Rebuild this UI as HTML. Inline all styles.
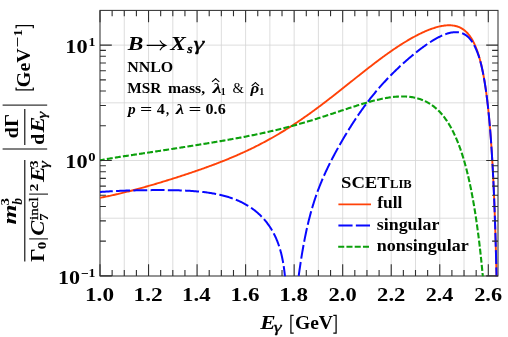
<!DOCTYPE html><html><head><meta charset="utf-8"><style>html,body{margin:0;padding:0;background:#fff}svg{display:block}text{font-family:"Liberation Serif",serif;fill:#000}</style></head><body>
<svg width="508" height="337" viewBox="0 0 508 337">
<rect width="508" height="337" fill="#fff"/>
<path d="M124.27 10.4V276.0M148.54 10.4V276.0M172.81 10.4V276.0M197.08 10.4V276.0M221.34 10.4V276.0M245.61 10.4V276.0M269.88 10.4V276.0M294.15 10.4V276.0M318.42 10.4V276.0M342.69 10.4V276.0M366.96 10.4V276.0M391.23 10.4V276.0M415.50 10.4V276.0M439.77 10.4V276.0M464.03 10.4V276.0M488.30 10.4V276.0M100.0 218.21H498.0M100.0 160.52H498.0M100.0 102.83H498.0M100.0 45.14H498.0" stroke="#d4d4d4" stroke-width="0.8" fill="none"/>
<rect x="100.0" y="10.4" width="398.0" height="265.6" fill="none" stroke="#333" stroke-width="1.05"/>
<clipPath id="c"><rect x="99.7" y="10.1" width="398.6" height="266.20000000000005"/></clipPath>
<g clip-path="url(#c)" fill="none" stroke-linejoin="round">
<path d="M100.00 197.82L100.98 197.63L101.96 197.43L102.94 197.24L103.92 197.04L104.90 196.84L105.88 196.64L106.86 196.44L107.84 196.23L108.82 196.02L109.80 195.81L110.78 195.60L111.75 195.39L112.73 195.17L113.70 194.95L114.68 194.73L115.66 194.51L116.63 194.29L117.60 194.06L118.58 193.83L119.55 193.61L120.52 193.37L121.50 193.14L122.47 192.91L123.44 192.67L124.41 192.43L125.38 192.19L126.35 191.95L127.32 191.70L128.29 191.46L129.26 191.21L130.23 190.96L131.20 190.71L132.17 190.46L133.13 190.21L134.10 189.95L135.07 189.69L136.03 189.44L137.00 189.18L137.96 188.92L138.93 188.65L139.89 188.39L140.86 188.13L141.82 187.86L142.79 187.59L143.75 187.32L144.71 187.05L145.68 186.78L146.64 186.51L147.60 186.24L148.56 185.96L149.52 185.68L150.48 185.41L151.44 185.13L152.40 184.85L153.36 184.57L154.32 184.29L155.28 184.00L156.24 183.72L157.20 183.44L158.16 183.15L159.12 182.86L160.07 182.58L161.03 182.29L161.99 182.00L162.95 181.71L163.90 181.41L164.86 181.12L165.81 180.83L166.77 180.53L167.73 180.24L168.68 179.94L169.64 179.64L170.59 179.35L171.54 179.05L172.50 178.75L173.45 178.45L174.41 178.14L175.36 177.84L176.31 177.54L177.26 177.23L178.22 176.93L179.17 176.62L180.12 176.31L181.07 176.00L182.02 175.69L182.97 175.38L183.92 175.07L184.87 174.76L185.82 174.44L186.77 174.13L187.72 173.81L188.67 173.50L189.62 173.18L190.57 172.86L191.51 172.54L192.46 172.22L193.41 171.90L194.35 171.57L195.30 171.25L196.24 170.92L197.19 170.60L198.13 170.27L199.08 169.94L200.02 169.61L200.97 169.28L201.91 168.95L202.85 168.61L203.79 168.28L204.74 167.94L205.68 167.60L206.62 167.26L207.56 166.92L208.50 166.58L209.44 166.23L210.37 165.89L211.31 165.54L212.25 165.19L213.19 164.84L214.12 164.49L215.06 164.14L215.99 163.78L216.93 163.42L217.86 163.07L218.79 162.71L219.73 162.34L220.66 161.98L221.59 161.61L222.52 161.25L223.45 160.88L224.38 160.51L225.31 160.13L226.23 159.76L227.16 159.38L228.08 159.01L229.01 158.62L229.93 158.24L230.86 157.86L231.78 157.47L232.70 157.08L233.62 156.69L234.54 156.30L235.46 155.90L236.38 155.51L237.30 155.11L238.21 154.71L239.13 154.30L240.04 153.90L240.95 153.49L241.87 153.08L242.78 152.67L243.69 152.25L244.60 151.84L245.50 151.42L246.41 150.99L247.32 150.57L248.22 150.14L249.12 149.72L250.03 149.28L250.93 148.85L251.83 148.42L252.73 147.98L253.62 147.54L254.52 147.09L255.42 146.65L256.31 146.20L257.20 145.75L258.10 145.30L258.99 144.84L259.88 144.38L260.76 143.92L261.65 143.46L262.54 143.00L263.42 142.53L264.30 142.06L265.18 141.59L266.06 141.11L266.94 140.64L267.82 140.16L268.70 139.67L269.57 139.19L270.45 138.70L271.32 138.21L272.19 137.72L273.06 137.23L273.93 136.73L274.79 136.23L275.66 135.73L276.52 135.23L277.39 134.72L278.25 134.22L279.11 133.70L279.97 133.19L280.82 132.68L281.68 132.16L282.53 131.64L283.39 131.12L284.24 130.59L285.09 130.07L285.94 129.54L286.79 129.01L287.63 128.48L288.48 127.94L289.32 127.40L290.16 126.87L291.00 126.32L291.84 125.78L292.68 125.24L293.52 124.69L294.36 124.14L295.19 123.59L296.02 123.03L296.85 122.48L297.68 121.92L298.51 121.36L299.34 120.80L300.17 120.24L300.99 119.67L301.82 119.11L302.64 118.54L303.46 117.97L304.28 117.40L305.10 116.83L305.92 116.25L306.74 115.67L307.55 115.10L308.37 114.52L309.18 113.93L310.00 113.35L310.81 112.77L311.62 112.18L312.43 111.59L313.24 111.00L314.04 110.41L314.85 109.82L315.65 109.23L316.46 108.64L317.26 108.04L318.06 107.44L318.87 106.84L319.67 106.25L320.47 105.64L321.27 105.04L322.06 104.44L322.86 103.84L323.66 103.23L324.45 102.63L325.25 102.02L326.04 101.41L326.83 100.80L327.63 100.19L328.42 99.58L329.21 98.97L330.00 98.36L330.79 97.74L331.58 97.13L332.37 96.51L333.16 95.90L333.94 95.28L334.73 94.67L335.52 94.05L336.30 93.43L337.09 92.81L337.88 92.19L338.66 91.57L339.45 90.95L340.23 90.33L341.01 89.71L341.80 89.09L342.58 88.47L343.36 87.85L344.15 87.22L344.93 86.60L345.71 85.98L346.49 85.35L347.28 84.73L348.06 84.11L348.84 83.48L349.62 82.86L350.40 82.24L351.19 81.61L351.97 80.99L352.75 80.37L353.53 79.74L354.31 79.12L355.10 78.50L355.88 77.88L356.66 77.25L357.44 76.63L358.23 76.01L359.01 75.39L359.80 74.77L360.58 74.15L361.36 73.53L362.15 72.91L362.93 72.29L363.72 71.67L364.51 71.05L365.29 70.43L366.08 69.82L366.87 69.20L367.66 68.59L368.45 67.97L369.24 67.36L370.03 66.75L370.82 66.13L371.61 65.52L372.40 64.91L373.20 64.31L373.99 63.70L374.79 63.09L375.58 62.49L376.38 61.88L377.18 61.28L377.98 60.68L378.78 60.08L379.58 59.48L380.38 58.88L381.19 58.29L381.99 57.70L382.80 57.10L383.60 56.51L384.41 55.93L385.22 55.34L386.03 54.75L386.85 54.17L387.66 53.59L388.48 53.01L389.29 52.44L390.11 51.86L390.93 51.29L391.75 50.72L392.58 50.15L393.40 49.59L394.23 49.02L395.06 48.46L395.89 47.91L396.72 47.35L397.55 46.80L398.39 46.25L399.23 45.70L400.07 45.16L400.91 44.62L401.75 44.08L402.60 43.55L403.45 43.02L404.30 42.49L405.15 41.97L406.01 41.45L406.86 40.94L407.72 40.43L408.58 39.92L409.45 39.41L410.31 38.92L411.18 38.42L412.06 37.93L412.93 37.44L413.81 36.96L414.69 36.49L415.57 36.02L416.45 35.55L417.34 35.09L418.23 34.64L419.13 34.19L420.02 33.75L420.92 33.31L421.83 32.88L422.73 32.46L423.64 32.05L424.56 31.64L425.47 31.24L426.39 30.84L427.32 30.46L428.24 30.08L429.17 29.72L430.11 29.36L431.05 29.01L431.99 28.68L432.93 28.35L433.88 28.04L434.84 27.74L435.79 27.45L436.75 27.17L437.72 26.91L438.69 26.66L439.66 26.43L440.64 26.22L441.62 26.02L442.60 25.85L443.59 25.69L444.58 25.56L445.58 25.45L446.57 25.36L447.57 25.30L448.57 25.27L449.57 25.26L450.57 25.29L451.57 25.35L452.56 25.45L453.56 25.58L454.54 25.75L455.52 25.96L456.49 26.21L457.44 26.50L458.39 26.83L459.31 27.21L460.22 27.62L461.11 28.08L461.98 28.58L462.82 29.11L463.65 29.69L464.44 30.29L465.21 30.93L465.95 31.60L466.67 32.29L467.36 33.02L468.03 33.76L468.68 34.53L469.29 35.31L469.89 36.11L470.47 36.93L471.02 37.77L471.55 38.61L472.07 39.47L472.56 40.34L473.04 41.22L473.50 42.10L473.95 43.00L474.38 43.90L474.80 44.81L475.20 45.73L475.59 46.65L475.97 47.57L476.34 48.50L476.69 49.44L477.04 50.37L477.37 51.32L477.70 52.26L478.02 53.21L478.32 54.16L478.62 55.12L478.92 56.07L479.20 57.03L479.48 57.99L479.75 58.96L480.01 59.92L480.27 60.89L480.52 61.85L480.76 62.82L481.00 63.80L481.24 64.77L481.47 65.74L481.69 66.72L481.91 67.69L482.12 68.67L482.33 69.65L482.54 70.63L482.74 71.61L482.94 72.59L483.13 73.57L483.32 74.55L483.50 75.53L483.69 76.52L483.86 77.50L484.04 78.48L484.21 79.47L484.38 80.45L484.55 81.44L484.71 82.43L484.87 83.41L485.02 84.40L485.18 85.39L485.33 86.38L485.48 87.37L485.63 88.36L485.77 89.35L485.91 90.34L486.05 91.33L486.19 92.32L486.33 93.31L486.46 94.30L486.59 95.29L486.72 96.28L486.85 97.28L486.97 98.27L487.09 99.26L487.22 100.25L487.33 101.25L487.45 102.24L487.57 103.23L487.68 104.23L487.80 105.22L487.91 106.21L488.02 107.21L488.13 108.20L488.23 109.20L488.34 110.19L488.44 111.18L488.54 112.18L488.65 113.17L488.75 114.17L488.84 115.16L488.94 116.16L489.04 117.16L489.13 118.15L489.23 119.15L489.32 120.14L489.41 121.14L489.50 122.13L489.59 123.13L489.68 124.13L489.76 125.12L489.85 126.12L489.93 127.12L490.02 128.11L490.10 129.11L490.18 130.11L490.26 131.10L490.34 132.10L490.42 133.10L490.50 134.09L490.58 135.09L490.65 136.09L490.73 137.08L490.80 138.08L490.88 139.08L490.95 140.08L491.02 141.07L491.09 142.07L491.16 143.07L491.23 144.07L491.30 145.07L491.37 146.06L491.44 147.06L491.50 148.06L491.57 149.06L491.64 150.05L491.70 151.05L491.76 152.05L491.83 153.05L491.89 154.05L491.95 155.04L492.01 156.04L492.08 157.04L492.14 158.04L492.20 159.04L492.25 160.04L492.31 161.03L492.37 162.03L492.43 163.03L492.48 164.03L492.54 165.03L492.60 166.03L492.65 167.03L492.71 168.02L492.76 169.02L492.81 170.02L492.87 171.02L492.92 172.02L492.97 173.02L493.02 174.02L493.07 175.01L493.12 176.01L493.17 177.01L493.22 178.01L493.27 179.01L493.32 180.01L493.37 181.01L493.42 182.01L493.46 183.01L493.51 184.00L493.56 185.00L493.60 186.00L493.65 187.00L493.69 188.00L493.74 189.00L493.78 190.00L493.83 191.00L493.87 192.00L493.92 193.00L493.96 194.00L494.00 194.99L494.04 195.99L494.08 196.99L494.13 197.99L494.17 198.99L494.21 199.99L494.25 200.99L494.29 201.99L494.33 202.99L494.37 203.99L494.41 204.99L494.44 205.99L494.48 206.99L494.52 207.99L494.56 208.98L494.60 209.98L494.63 210.98L494.67 211.98L494.71 212.98L494.74 213.98L494.78 214.98L494.81 215.98L494.85 216.98L494.89 217.98L494.92 218.98L494.95 219.98L494.99 220.98L495.02 221.98L495.06 222.98L495.09 223.98L495.12 224.98L495.16 225.98L495.19 226.98L495.22 227.97L495.25 228.97L495.28 229.97L495.32 230.97L495.35 231.97L495.38 232.97L495.41 233.97L495.44 234.97L495.47 235.97L495.50 236.97L495.53 237.97L495.56 238.97L495.59 239.97L495.62 240.97L495.65 241.97L495.68 242.97L495.70 243.97L495.73 244.97L495.76 245.97L495.79 246.97L495.82 247.97L495.84 248.97L495.87 249.97L495.90 250.97L495.93 251.97L495.95 252.97L495.98 253.97L496.01 254.97L496.03 255.97L496.06 256.96L496.08 257.96L496.11 258.96L496.13 259.96L496.16 260.96L496.18 261.96L496.21 262.96L496.23 263.96L496.26 264.96L496.28 265.96L496.31 266.96L496.33 267.96L496.35 268.96L496.38 269.96L496.40 270.96L496.42 271.96L496.45 272.96L496.47 273.96L496.49 274.96L496.52 275.96L496.54 276.96L496.56 277.96L496.58 278.96L496.60 279.96L496.63 280.96L496.65 281.96L496.67 282.96L496.69 283.96L496.71 284.96" stroke="#ff4208" stroke-width="1.9"/>
<path d="M100.00 192.01L101.00 191.93L101.99 191.85L102.99 191.78L103.99 191.71L104.99 191.64L105.99 191.57L106.99 191.51L107.98 191.44L108.98 191.38L109.98 191.33L110.98 191.27L111.98 191.21L112.98 191.16L113.98 191.11L114.98 191.06L115.98 191.02L116.98 190.97L117.98 190.93L118.97 190.88L119.97 190.84L120.97 190.80L121.97 190.76L122.97 190.73L123.97 190.69L124.97 190.66L125.97 190.62L126.97 190.59L127.97 190.56L128.97 190.53L129.97 190.50L130.97 190.48L131.97 190.45L132.97 190.42L133.97 190.40L134.97 190.38L135.97 190.35L136.97 190.33L137.98 190.31L138.98 190.29L139.98 190.27L140.98 190.25L141.98 190.24L142.98 190.22L143.98 190.21L144.98 190.19L145.98 190.18L146.98 190.17L147.98 190.15L148.98 190.14L149.98 190.13L150.98 190.13L151.98 190.12L152.98 190.11L153.98 190.10L154.98 190.10L155.98 190.10L156.98 190.09L157.98 190.09L158.98 190.09L159.98 190.09L160.99 190.09L161.99 190.09L162.99 190.10L163.99 190.10L164.99 190.11L165.99 190.12L166.99 190.13L167.99 190.14L168.99 190.15L169.99 190.16L170.99 190.18L171.99 190.20L172.99 190.21L173.99 190.23L174.99 190.26L175.99 190.28L176.99 190.31L177.99 190.34L178.99 190.37L179.99 190.40L180.99 190.43L181.99 190.47L182.99 190.51L183.99 190.55L184.99 190.60L185.99 190.65L186.99 190.70L187.99 190.75L188.99 190.81L189.98 190.87L190.98 190.93L191.98 191.00L192.98 191.07L193.98 191.14L194.97 191.22L195.97 191.30L196.97 191.39L197.97 191.48L198.96 191.57L199.96 191.67L200.95 191.77L201.95 191.88L202.94 191.99L203.94 192.11L204.93 192.23L205.92 192.35L206.91 192.49L207.90 192.62L208.89 192.77L209.88 192.92L210.87 193.07L211.86 193.23L212.84 193.40L213.83 193.58L214.81 193.76L215.80 193.94L216.78 194.14L217.76 194.34L218.74 194.55L219.71 194.76L220.69 194.99L221.66 195.22L222.63 195.46L223.60 195.71L224.57 195.96L225.53 196.23L226.50 196.50L227.46 196.79L228.41 197.08L229.37 197.38L230.32 197.69L231.27 198.01L232.21 198.34L233.15 198.67L234.09 199.02L235.03 199.38L235.96 199.75L236.88 200.13L237.80 200.52L238.72 200.92L239.63 201.33L240.54 201.75L241.44 202.19L242.34 202.63L243.23 203.09L244.11 203.55L244.99 204.03L245.86 204.52L246.73 205.02L247.59 205.53L248.44 206.06L249.29 206.59L250.13 207.14L250.96 207.69L251.78 208.26L252.60 208.84L253.40 209.43L254.20 210.04L254.99 210.65L255.77 211.28L256.54 211.91L257.31 212.56L258.06 213.22L258.80 213.89L259.54 214.57L260.26 215.26L260.97 215.96L261.68 216.68L262.37 217.40L263.05 218.13L263.72 218.87L264.38 219.62L265.03 220.38L265.67 221.15L266.30 221.93L266.91 222.72L267.52 223.52L268.11 224.32L268.69 225.14L269.26 225.96L269.82 226.79L270.37 227.63L270.90 228.47L271.43 229.33L271.94 230.19L272.44 231.05L272.93 231.92L273.41 232.80L273.87 233.69L274.33 234.58L274.77 235.48L275.20 236.38L275.62 237.29L276.03 238.20L276.43 239.12L276.82 240.04L277.19 240.97L277.56 241.90L277.91 242.84L278.26 243.77L278.59 244.72L278.91 245.66L279.23 246.61L279.53 247.57L279.83 248.52L280.11 249.48L280.39 250.44L280.65 251.41L280.91 252.38L281.16 253.34L281.40 254.32L281.63 255.29L281.86 256.26L282.07 257.24L282.28 258.22L282.48 259.20L282.68 260.18L282.86 261.16L283.04 262.15L283.21 263.13L283.38 264.12L283.54 265.11L283.69 266.10L283.84 267.09L283.98 268.08L284.12 269.07L284.25 270.06L284.38 271.05L284.50 272.05L284.61 273.04L284.72 274.03L284.83 275.03L284.93 276.02L285.03 277.02L285.13 278.02L285.22 279.01L285.30 280.01L285.38 281.01L285.46 282.00L285.54 283.00L285.61 284.00L285.68 285.00" stroke="#0808ff" stroke-width="2.0" stroke-dasharray="13.96 3.3" stroke-dashoffset="1.15"/>
<path d="M298.00 281.40L298.13 280.41L298.26 279.42L298.39 278.43L298.52 277.43L298.65 276.44L298.78 275.45L298.92 274.46L299.05 273.46L299.19 272.47L299.33 271.48L299.46 270.49L299.60 269.50L299.75 268.51L299.89 267.52L300.03 266.53L300.18 265.54L300.33 264.55L300.47 263.56L300.62 262.57L300.78 261.58L300.93 260.59L301.08 259.60L301.24 258.61L301.40 257.62L301.55 256.63L301.72 255.64L301.88 254.66L302.04 253.67L302.21 252.68L302.37 251.69L302.54 250.71L302.71 249.72L302.89 248.73L303.06 247.75L303.24 246.76L303.41 245.78L303.59 244.79L303.77 243.81L303.96 242.82L304.14 241.84L304.33 240.86L304.52 239.87L304.71 238.89L304.91 237.91L305.10 236.93L305.30 235.95L305.50 234.97L305.71 233.99L305.91 233.01L306.12 232.03L306.33 231.05L306.54 230.07L306.76 229.09L306.98 228.12L307.20 227.14L307.42 226.16L307.65 225.19L307.88 224.21L308.11 223.24L308.34 222.27L308.58 221.29L308.82 220.32L309.06 219.35L309.31 218.38L309.55 217.41L309.81 216.44L310.06 215.47L310.32 214.51L310.58 213.54L310.84 212.57L311.11 211.61L311.38 210.65L311.66 209.68L311.94 208.72L312.22 207.76L312.50 206.80L312.79 205.84L313.08 204.88L313.38 203.93L313.67 202.97L313.98 202.02L314.28 201.06L314.59 200.11L314.90 199.16L315.22 198.21L315.54 197.26L315.87 196.32L316.19 195.37L316.53 194.43L316.86 193.48L317.20 192.54L317.54 191.60L317.89 190.66L318.24 189.72L318.60 188.79L318.95 187.85L319.32 186.92L319.68 185.99L320.05 185.06L320.42 184.13L320.80 183.20L321.18 182.27L321.56 181.35L321.95 180.43L322.34 179.51L322.74 178.59L323.14 177.67L323.54 176.75L323.94 175.83L324.35 174.92L324.76 174.01L325.18 173.10L325.59 172.19L326.01 171.28L326.44 170.37L326.86 169.47L327.29 168.56L327.73 167.66L328.16 166.76L328.60 165.86L329.04 164.96L329.49 164.06L329.93 163.17L330.38 162.27L330.83 161.38L331.29 160.49L331.74 159.59L332.20 158.70L332.66 157.82L333.13 156.93L333.59 156.04L334.06 155.16L334.53 154.27L335.01 153.39L335.48 152.51L335.96 151.63L336.44 150.75L336.92 149.87L337.40 149.00L337.89 148.12L338.37 147.25L338.86 146.37L339.35 145.50L339.85 144.63L340.34 143.76L340.84 142.89L341.34 142.02L341.84 141.16L342.34 140.29L342.85 139.43L343.35 138.56L343.86 137.70L344.37 136.84L344.88 135.98L345.40 135.12L345.91 134.26L346.43 133.41L346.95 132.55L347.47 131.70L348.00 130.84L348.52 129.99L349.05 129.14L349.58 128.29L350.11 127.44L350.65 126.60L351.18 125.75L351.72 124.91L352.26 124.06L352.80 123.22L353.35 122.38L353.89 121.54L354.44 120.71L354.99 119.87L355.55 119.03L356.10 118.20L356.66 117.37L357.22 116.54L357.78 115.71L358.35 114.89L358.91 114.06L359.48 113.24L360.05 112.42L360.63 111.60L361.21 110.78L361.79 109.96L362.37 109.15L362.95 108.33L363.54 107.52L364.13 106.71L364.72 105.91L365.31 105.10L365.91 104.30L366.51 103.50L367.11 102.70L367.72 101.90L368.33 101.10L368.94 100.31L369.55 99.52L370.17 98.73L370.79 97.94L371.41 97.16L372.03 96.38L372.66 95.60L373.29 94.82L373.92 94.04L374.56 93.27L375.20 92.50L375.84 91.73L376.48 90.96L377.13 90.20L377.78 89.44L378.43 88.68L379.09 87.92L379.75 87.17L380.41 86.42L381.07 85.67L381.74 84.92L382.40 84.17L383.08 83.43L383.75 82.69L384.43 81.95L385.11 81.22L385.79 80.49L386.47 79.76L387.16 79.03L387.85 78.30L388.55 77.58L389.24 76.86L389.94 76.14L390.64 75.43L391.34 74.72L392.05 74.01L392.76 73.30L393.47 72.59L394.18 71.89L394.89 71.19L395.61 70.49L396.33 69.79L397.05 69.10L397.78 68.41L398.50 67.72L399.23 67.04L399.96 66.35L400.70 65.67L401.43 64.99L402.17 64.32L402.91 63.64L403.66 62.97L404.40 62.30L405.15 61.64L405.90 60.97L406.65 60.31L407.40 59.65L408.16 59.00L408.92 58.35L409.68 57.69L410.44 57.05L411.21 56.40L411.98 55.76L412.75 55.12L413.52 54.49L414.30 53.85L415.07 53.22L415.85 52.60L416.64 51.97L417.42 51.35L418.21 50.74L419.00 50.12L419.80 49.51L420.60 48.91L421.40 48.31L422.20 47.71L423.01 47.12L423.82 46.53L424.63 45.95L425.45 45.37L426.27 44.79L427.09 44.22L427.92 43.66L428.75 43.10L429.59 42.55L430.43 42.01L431.27 41.47L432.12 40.94L432.97 40.42L433.83 39.90L434.69 39.39L435.56 38.89L436.43 38.40L437.31 37.93L438.20 37.46L439.09 37.00L439.99 36.55L440.89 36.12L441.80 35.70L442.71 35.30L443.64 34.91L444.57 34.54L445.50 34.19L446.45 33.86L447.40 33.55L448.36 33.27L449.33 33.01L450.30 32.78L451.28 32.58L452.27 32.41L453.26 32.28L454.26 32.19L455.26 32.14L456.26 32.13L457.26 32.18L458.26 32.27L459.25 32.42L460.23 32.63L461.19 32.89L462.14 33.21L463.07 33.58L463.97 34.02L464.85 34.50L465.69 35.03L466.51 35.62L467.29 36.24L468.04 36.90L468.76 37.59L469.45 38.32L470.11 39.07L470.74 39.85L471.35 40.65L471.92 41.47L472.47 42.30L473.00 43.15L473.51 44.02L474.00 44.89L474.46 45.78L474.91 46.67L475.34 47.58L475.76 48.49L476.16 49.40L476.55 50.32L476.94 51.25L477.31 52.18L477.67 53.11L478.02 54.05L478.35 54.99L478.68 55.94L478.99 56.89L479.30 57.84L479.59 58.80L479.87 59.76L480.15 60.72L480.41 61.69L480.67 62.66L480.92 63.63L481.17 64.60L481.40 65.57L481.63 66.54L481.86 67.52L482.08 68.50L482.29 69.47L482.50 70.45L482.70 71.43L482.90 72.42L483.09 73.40L483.28 74.38L483.47 75.36L483.65 76.35L483.83 77.33L484.01 78.32L484.18 79.30L484.35 80.29L484.52 81.28L484.68 82.27L484.84 83.25L485.00 84.24L485.15 85.23L485.31 86.22L485.46 87.21L485.60 88.20L485.75 89.19L485.89 90.18L486.03 91.17L486.17 92.17L486.30 93.16L486.44 94.15L486.57 95.14L486.70 96.13L486.83 97.13L486.95 98.12L487.08 99.11L487.20 100.11L487.32 101.10L487.44 102.10L487.55 103.09L487.67 104.08L487.78 105.08L487.89 106.07L488.00 107.07L488.11 108.06L488.22 109.06L488.32 110.05L488.43 111.05L488.53 112.05L488.63 113.04L488.73 114.04L488.83 115.03L488.93 116.03L489.02 117.03L489.12 118.02L489.21 119.02L489.31 120.02L489.40 121.01L489.49 122.01L489.58 123.01L489.67 124.01L489.75 125.00L489.84 126.00L489.92 127.00L490.01 127.99L490.09 128.99L490.17 129.99L490.25 130.99L490.33 131.99L490.41 132.98L490.49 133.98L490.57 134.98L490.64 135.98L490.72 136.98L490.79 137.97L490.87 138.97L490.94 139.97L491.01 140.97L491.09 141.97L491.16 142.97L491.23 143.97L491.29 144.96L491.36 145.96L491.43 146.96L491.50 147.96L491.56 148.96L491.63 149.96L491.69 150.96L491.76 151.96L491.82 152.96L491.89 153.95L491.95 154.95L492.01 155.95L492.07 156.95L492.13 157.95L492.19 158.95L492.25 159.95L492.31 160.95L492.37 161.95L492.42 162.95L492.48 163.95L492.54 164.95L492.59 165.95L492.65 166.95L492.70 167.95L492.76 168.95L492.81 169.95L492.86 170.94L492.91 171.94L492.97 172.94L493.02 173.94L493.07 174.94L493.12 175.94L493.17 176.94L493.22 177.94L493.27 178.94L493.32 179.94L493.37 180.94L493.41 181.94L493.46 182.94L493.51 183.94L493.55 184.94L493.60 185.94L493.65 186.94L493.69 187.94L493.74 188.94L493.78 189.94L493.83 190.94L493.87 191.94L493.91 192.94L493.96 193.94L494.00 194.94L494.04 195.94L494.08 196.94L494.12 197.94L494.17 198.94L494.21 199.94L494.25 200.94L494.29 201.95L494.33 202.95L494.37 203.95L494.40 204.95L494.44 205.95L494.48 206.95L494.52 207.95L494.56 208.95L494.60 209.95L494.63 210.95L494.67 211.95L494.71 212.95L494.74 213.95L494.78 214.95L494.81 215.95L494.85 216.95L494.88 217.95L494.92 218.95L494.95 219.95L494.99 220.95L495.02 221.95L495.06 222.95L495.09 223.95L495.12 224.95L495.15 225.96L495.19 226.96L495.22 227.96L495.25 228.96L495.28 229.96L495.32 230.96L495.35 231.96L495.38 232.96L495.41 233.96L495.44 234.96L495.47 235.96L495.50 236.96L495.53 237.96L495.56 238.96L495.59 239.96L495.62 240.96L495.65 241.97L495.68 242.97L495.70 243.97L495.73 244.97L495.76 245.97L495.79 246.97L495.82 247.97L495.84 248.97L495.87 249.97L495.90 250.97L495.93 251.97L495.95 252.97L495.98 253.97L496.01 254.97L496.03 255.97L496.06 256.98L496.08 257.98L496.11 258.98L496.13 259.98L496.16 260.98L496.18 261.98L496.21 262.98L496.23 263.98L496.26 264.98L496.28 265.98L496.31 266.98L496.33 267.98L496.35 268.98L496.38 269.99L496.40 270.99L496.42 271.99L496.45 272.99L496.47 273.99L496.49 274.99L496.52 275.99L496.54 276.99L496.56 277.99L496.58 278.99L496.60 279.99L496.63 280.99L496.65 282.00L496.67 283.00L496.69 284.00L496.71 285.00" stroke="#0808ff" stroke-width="2.0" stroke-dasharray="13.96 3.3" stroke-dashoffset="11.6"/>
<path d="M100.00 160.31L100.98 160.12L101.97 159.93L102.95 159.75L103.93 159.56L104.92 159.38L105.90 159.21L106.89 159.03L107.87 158.86L108.86 158.69L109.84 158.52L110.83 158.35L111.82 158.18L112.81 158.02L113.79 157.85L114.78 157.69L115.77 157.53L116.76 157.37L117.74 157.22L118.73 157.06L119.72 156.90L120.71 156.75L121.70 156.60L122.69 156.44L123.68 156.29L124.67 156.14L125.66 155.99L126.65 155.84L127.64 155.69L128.62 155.54L129.61 155.39L130.60 155.24L131.59 155.09L132.58 154.94L133.57 154.79L134.56 154.64L135.55 154.49L136.54 154.35L137.53 154.20L138.52 154.05L139.51 153.90L140.50 153.75L141.49 153.61L142.48 153.46L143.47 153.31L144.46 153.16L145.45 153.01L146.44 152.87L147.43 152.72L148.42 152.57L149.41 152.42L150.40 152.27L151.39 152.12L152.38 151.97L153.37 151.82L154.36 151.67L155.35 151.52L156.34 151.37L157.33 151.22L158.31 151.07L159.30 150.92L160.29 150.77L161.28 150.62L162.27 150.47L163.26 150.32L164.25 150.16L165.24 150.01L166.23 149.86L167.22 149.71L168.21 149.56L169.20 149.40L170.19 149.25L171.17 149.10L172.16 148.94L173.15 148.79L174.14 148.63L175.13 148.48L176.12 148.33L177.11 148.17L178.10 148.02L179.08 147.86L180.07 147.71L181.06 147.55L182.05 147.39L183.04 147.24L184.03 147.08L185.02 146.93L186.00 146.77L186.99 146.61L187.98 146.46L188.97 146.30L189.96 146.14L190.95 145.98L191.93 145.83L192.92 145.67L193.91 145.51L194.90 145.35L195.89 145.19L196.88 145.03L197.86 144.87L198.85 144.71L199.84 144.55L200.83 144.39L201.82 144.23L202.80 144.07L203.79 143.91L204.78 143.75L205.77 143.59L206.75 143.42L207.74 143.26L208.73 143.10L209.72 142.94L210.70 142.77L211.69 142.61L212.68 142.44L213.66 142.28L214.65 142.11L215.64 141.95L216.63 141.78L217.61 141.61L218.60 141.45L219.59 141.28L220.57 141.11L221.56 140.94L222.54 140.77L223.53 140.60L224.52 140.43L225.50 140.26L226.49 140.09L227.47 139.91L228.46 139.74L229.45 139.57L230.43 139.39L231.42 139.22L232.40 139.04L233.39 138.86L234.37 138.68L235.36 138.50L236.34 138.32L237.33 138.14L238.31 137.96L239.29 137.78L240.28 137.60L241.26 137.41L242.24 137.23L243.23 137.04L244.21 136.85L245.19 136.66L246.18 136.47L247.16 136.28L248.14 136.09L249.12 135.90L250.10 135.70L251.09 135.51L252.07 135.31L253.05 135.11L254.03 134.91L255.01 134.71L255.99 134.51L256.97 134.31L257.95 134.10L258.93 133.90L259.91 133.69L260.89 133.48L261.87 133.27L262.84 133.06L263.82 132.85L264.80 132.63L265.78 132.42L266.75 132.20L267.73 131.98L268.71 131.76L269.68 131.54L270.66 131.31L271.63 131.09L272.61 130.86L273.58 130.63L274.55 130.40L275.53 130.17L276.50 129.94L277.47 129.70L278.45 129.47L279.42 129.23L280.39 128.99L281.36 128.74L282.33 128.50L283.30 128.26L284.27 128.01L285.24 127.76L286.21 127.51L287.18 127.26L288.15 127.00L289.12 126.75L290.08 126.49L291.05 126.23L292.02 125.97L292.98 125.71L293.95 125.45L294.91 125.18L295.88 124.91L296.84 124.65L297.80 124.38L298.77 124.10L299.73 123.83L300.69 123.55L301.65 123.28L302.61 123.00L303.58 122.72L304.54 122.44L305.50 122.15L306.45 121.87L307.41 121.58L308.37 121.29L309.33 121.01L310.29 120.71L311.25 120.42L312.20 120.13L313.16 119.83L314.11 119.54L315.07 119.24L316.03 118.94L316.98 118.64L317.93 118.34L318.89 118.04L319.84 117.74L320.80 117.43L321.75 117.13L322.70 116.82L323.65 116.51L324.61 116.20L325.56 115.90L326.51 115.59L327.46 115.27L328.41 114.96L329.36 114.65L330.31 114.34L331.26 114.03L332.21 113.71L333.16 113.40L334.11 113.08L335.06 112.77L336.01 112.45L336.96 112.14L337.91 111.82L338.86 111.51L339.81 111.19L340.76 110.87L341.71 110.56L342.66 110.24L343.61 109.93L344.56 109.61L345.51 109.30L346.46 108.99L347.41 108.67L348.36 108.36L349.32 108.05L350.27 107.74L351.22 107.43L352.17 107.12L353.12 106.81L354.08 106.51L355.03 106.20L355.98 105.90L356.94 105.60L357.89 105.30L358.85 105.00L359.80 104.70L360.76 104.41L361.72 104.12L362.68 103.83L363.63 103.54L364.59 103.26L365.55 102.98L366.52 102.70L367.48 102.42L368.44 102.15L369.41 101.88L370.37 101.62L371.34 101.35L372.30 101.10L373.27 100.84L374.24 100.59L375.21 100.35L376.18 100.11L377.16 99.88L378.13 99.65L379.11 99.42L380.08 99.20L381.06 98.99L382.04 98.79L383.02 98.59L384.00 98.39L384.99 98.21L385.97 98.03L386.96 97.86L387.94 97.70L388.93 97.54L389.92 97.39L390.91 97.26L391.91 97.13L392.90 97.01L393.90 96.90L394.89 96.80L395.89 96.72L396.89 96.64L397.89 96.58L398.88 96.53L399.88 96.49L400.88 96.46L401.89 96.44L402.89 96.45L403.89 96.46L404.89 96.49L405.89 96.53L406.89 96.59L407.88 96.67L408.88 96.76L409.88 96.87L410.87 97.00L411.86 97.15L412.85 97.31L413.83 97.49L414.81 97.69L415.79 97.91L416.76 98.15L417.72 98.41L418.69 98.69L419.64 98.99L420.59 99.31L421.53 99.65L422.46 100.01L423.39 100.39L424.31 100.79L425.21 101.21L426.11 101.65L427.00 102.11L427.88 102.59L428.75 103.09L429.60 103.61L430.45 104.14L431.28 104.70L432.10 105.27L432.91 105.86L433.71 106.46L434.50 107.08L435.27 107.72L436.03 108.37L436.78 109.04L437.51 109.72L438.23 110.41L438.94 111.11L439.64 111.83L440.32 112.56L441.00 113.30L441.66 114.06L442.31 114.82L442.94 115.59L443.57 116.37L444.18 117.16L444.79 117.96L445.38 118.77L445.96 119.58L446.53 120.40L447.09 121.23L447.64 122.07L448.18 122.91L448.71 123.76L449.23 124.62L449.74 125.48L450.24 126.34L450.74 127.21L451.22 128.09L451.70 128.97L452.17 129.85L452.63 130.74L453.08 131.63L453.53 132.53L453.96 133.43L454.39 134.33L454.82 135.24L455.23 136.15L455.64 137.06L456.04 137.98L456.44 138.90L456.83 139.82L457.21 140.75L457.59 141.67L457.96 142.60L458.33 143.53L458.69 144.47L459.04 145.40L459.39 146.34L459.74 147.28L460.08 148.22L460.41 149.16L460.74 150.11L461.07 151.06L461.39 152.00L461.70 152.95L462.01 153.91L462.32 154.86L462.62 155.81L462.92 156.77L463.21 157.72L463.50 158.68L463.79 159.64L464.07 160.60L464.35 161.56L464.63 162.52L464.90 163.49L465.17 164.45L465.43 165.42L465.69 166.38L465.95 167.35L466.21 168.32L466.46 169.29L466.71 170.26L466.95 171.23L467.19 172.20L467.43 173.17L467.67 174.14L467.90 175.11L468.14 176.09L468.36 177.06L468.59 178.04L468.81 179.01L469.03 179.99L469.25 180.97L469.47 181.94L469.68 182.92L469.89 183.90L470.10 184.88L470.31 185.86L470.51 186.84L470.71 187.82L470.91 188.80L471.11 189.78L471.30 190.76L471.50 191.74L471.69 192.72L471.88 193.71L472.06 194.69L472.25 195.67L472.43 196.66L472.61 197.64L472.79 198.63L472.97 199.61L473.15 200.60L473.32 201.58L473.49 202.57L473.66 203.55L473.83 204.54L474.00 205.53L474.17 206.51L474.33 207.50L474.49 208.49L474.65 209.48L474.81 210.47L474.97 211.45L475.13 212.44L475.28 213.43L475.44 214.42L475.59 215.41L475.74 216.40L475.89 217.39L476.04 218.38L476.18 219.37L476.33 220.36L476.47 221.35L476.61 222.34L476.76 223.33L476.90 224.32L477.04 225.31L477.17 226.30L477.31 227.29L477.44 228.29L477.58 229.28L477.71 230.27L477.84 231.26L477.97 232.25L478.10 233.25L478.23 234.24L478.36 235.23L478.49 236.22L478.61 237.22L478.74 238.21L478.86 239.20L478.98 240.20L479.10 241.19L479.22 242.18L479.34 243.18L479.46 244.17L479.58 245.16L479.69 246.16L479.81 247.15L479.93 248.15L480.04 249.14L480.15 250.14L480.26 251.13L480.37 252.12L480.48 253.12L480.59 254.11L480.70 255.11L480.81 256.10L480.92 257.10L481.02 258.09L481.13 259.09L481.23 260.09L481.34 261.08L481.44 262.08L481.54 263.07L481.64 264.07L481.74 265.06L481.84 266.06L481.94 267.05L482.04 268.05L482.14 269.05L482.23 270.04L482.33 271.04L482.43 272.04L482.52 273.03L482.61 274.03L482.71 275.02L482.80 276.02L482.89 277.02L482.98 278.01L483.07 279.01L483.16 280.01L483.25 281.00L483.34 282.00L483.43 283.00L483.52 283.99L483.61 284.99" stroke="#0ca00c" stroke-width="2.1" stroke-dasharray="5.95 2.2" stroke-dashoffset="1.2"/>
</g>
<path d="M100.00 276.0v-11.8M100.00 10.4v11.8M112.13 276.0v-5.9M112.13 10.4v5.9M124.27 276.0v-5.9M124.27 10.4v5.9M136.40 276.0v-5.9M136.40 10.4v5.9M148.54 276.0v-11.8M148.54 10.4v11.8M160.67 276.0v-5.9M160.67 10.4v5.9M172.81 276.0v-5.9M172.81 10.4v5.9M184.94 276.0v-5.9M184.94 10.4v5.9M197.08 276.0v-11.8M197.08 10.4v11.8M209.21 276.0v-5.9M209.21 10.4v5.9M221.34 276.0v-5.9M221.34 10.4v5.9M233.48 276.0v-5.9M233.48 10.4v5.9M245.61 276.0v-11.8M245.61 10.4v11.8M257.75 276.0v-5.9M257.75 10.4v5.9M269.88 276.0v-5.9M269.88 10.4v5.9M282.02 276.0v-5.9M282.02 10.4v5.9M294.15 276.0v-11.8M294.15 10.4v11.8M306.29 276.0v-5.9M306.29 10.4v5.9M318.42 276.0v-5.9M318.42 10.4v5.9M330.56 276.0v-5.9M330.56 10.4v5.9M342.69 276.0v-11.8M342.69 10.4v11.8M354.82 276.0v-5.9M354.82 10.4v5.9M366.96 276.0v-5.9M366.96 10.4v5.9M379.09 276.0v-5.9M379.09 10.4v5.9M391.23 276.0v-11.8M391.23 10.4v11.8M403.36 276.0v-5.9M403.36 10.4v5.9M415.50 276.0v-5.9M415.50 10.4v5.9M427.63 276.0v-5.9M427.63 10.4v5.9M439.77 276.0v-11.8M439.77 10.4v11.8M451.90 276.0v-5.9M451.90 10.4v5.9M464.03 276.0v-5.9M464.03 10.4v5.9M476.17 276.0v-5.9M476.17 10.4v5.9M488.30 276.0v-11.8M488.30 10.4v11.8M100.0 275.90h11.8M498.0 275.90h-11.8M100.0 241.17h5.9M498.0 241.17h-5.9M100.0 220.85h5.9M498.0 220.85h-5.9M100.0 206.43h5.9M498.0 206.43h-5.9M100.0 195.25h5.9M498.0 195.25h-5.9M100.0 186.12h5.9M498.0 186.12h-5.9M100.0 178.39h5.9M498.0 178.39h-5.9M100.0 171.70h5.9M498.0 171.70h-5.9M100.0 165.80h5.9M498.0 165.80h-5.9M100.0 160.52h11.8M498.0 160.52h-11.8M100.0 125.79h5.9M498.0 125.79h-5.9M100.0 105.47h5.9M498.0 105.47h-5.9M100.0 91.05h5.9M498.0 91.05h-5.9M100.0 79.87h5.9M498.0 79.87h-5.9M100.0 70.74h5.9M498.0 70.74h-5.9M100.0 63.01h5.9M498.0 63.01h-5.9M100.0 56.32h5.9M498.0 56.32h-5.9M100.0 50.42h5.9M498.0 50.42h-5.9M100.0 45.14h11.8M498.0 45.14h-11.8" stroke="#2e2e2e" stroke-width="1.1" fill="none"/>
<g opacity="0.999">
<text transform="translate(84.99,300.70) scale(1.2454,1)" font-size="18.65" font-weight="bold" font-style="normal">1.0</text>
<text transform="translate(133.52,300.70) scale(1.2462,1)" font-size="18.72" font-weight="bold" font-style="normal">1.2</text>
<text transform="translate(182.10,300.70) scale(1.2146,1)" font-size="18.79" font-weight="bold" font-style="normal">1.4</text>
<text transform="translate(230.62,300.70) scale(1.2326,1)" font-size="18.72" font-weight="bold" font-style="normal">1.6</text>
<text transform="translate(279.15,300.70) scale(1.2400,1)" font-size="18.65" font-weight="bold" font-style="normal">1.8</text>
<text transform="translate(328.58,300.70) scale(1.2055,1)" font-size="18.65" font-weight="bold" font-style="normal">2.0</text>
<text transform="translate(377.12,300.70) scale(1.2061,1)" font-size="18.72" font-weight="bold" font-style="normal">2.2</text>
<text transform="translate(425.68,300.70) scale(1.1808,1)" font-size="18.72" font-weight="bold" font-style="normal">2.4</text>
<text transform="translate(474.20,300.70) scale(1.1933,1)" font-size="18.72" font-weight="bold" font-style="normal">2.6</text>
<text transform="translate(65.31,52.89) scale(1.1876,1)" font-size="18.80" font-weight="bold" font-style="normal">10</text>
<text transform="translate(88.39,46.09) scale(1.0650,1)" font-size="13.03" font-weight="bold" font-style="normal">1</text>
<text transform="translate(65.31,168.27) scale(1.1876,1)" font-size="18.80" font-weight="bold" font-style="normal">10</text>
<text transform="translate(88.25,161.47) scale(1.1024,1)" font-size="13.23" font-weight="bold" font-style="normal">0</text>
<text transform="translate(57.93,283.65) scale(1.1755,1)" font-size="18.80" font-weight="bold" font-style="normal">10</text>
<text transform="translate(80.78,277.85) scale(1.0506,1)" font-size="13.10" font-weight="bold" font-style="normal">−</text>
<text transform="translate(88.49,276.75) scale(1.0776,1)" font-size="12.88" font-weight="bold" font-style="normal">1</text>
<text transform="translate(260.27,328.70) scale(1.2060,1)" font-size="19.08" font-weight="bold" font-style="italic">E</text>
<text transform="translate(273.85,331.90) scale(1.4286,1)" font-size="14.00" font-weight="normal" font-style="italic" stroke="#000" stroke-width="0.3">γ</text>
<text transform="translate(294.97,328.90) scale(1.0053,1)" font-size="19.47" font-weight="bold" font-style="normal">GeV</text>
<path d="M293.7 315.4H290.9V333.2H293.7M333.3 315.4H336.1V333.2H333.3" stroke="#000" stroke-width="1.25" fill="none"/>
<text transform="translate(127.83,50.00) scale(1.2481,1)" font-size="18.78" font-weight="bold" font-style="italic">B</text>
<path d="M146.7 45.4H165M159.9 40.6C161.2 43.2 163 44.6 165.6 45.4C163 46.2 161.2 47.6 159.9 50.2" stroke="#000" stroke-width="1.1" fill="none"/>
<text transform="translate(170.19,50.00) scale(1.2482,1)" font-size="18.78" font-weight="bold" font-style="italic">X</text>
<text transform="translate(187.27,53.10) scale(1.1123,1)" font-size="12.40" font-weight="bold" font-style="italic" stroke="#000" stroke-width="0.35">s</text>
<text transform="translate(193.42,49.80) scale(1.5139,1)" font-size="18.00" font-weight="normal" font-style="italic" stroke="#000" stroke-width="0.3">γ</text>
<text transform="translate(127.18,71.50) scale(1.1332,1)" font-size="14.04" font-weight="bold" font-style="normal">NNLO</text>
<text transform="translate(127.23,92.80) scale(1.0799,1)" font-size="14.19" font-weight="bold" font-style="normal">MSR</text>
<text transform="translate(167.97,92.80) scale(1.0988,1)" font-size="14.30" font-weight="bold" font-style="normal">mass,</text>
<text transform="translate(212.42,92.80) scale(1.3669,1)" font-size="15.04" font-weight="bold" font-style="italic">λ</text>
<path d="M212.0 81.7Q214.4 80.2 215.65 78.5Q216.9 80.2 219.3 81.7" stroke="#000" stroke-width="1.15" fill="none" stroke-linejoin="round"/>
<text transform="translate(220.82,95.00) scale(1.0102,1)" font-size="9.70" font-weight="bold" font-style="normal">1</text>
<text transform="translate(232.55,92.90) scale(0.9756,1)" font-size="15.04" font-weight="normal" font-style="normal">&amp;</text>
<text transform="translate(250.62,92.60) scale(1.1770,1)" font-size="14.30" font-weight="bold" font-style="italic">ρ</text>
<path d="M251.7 85.7Q254.1 84.2 255.4 82.5Q256.7 84.2 259.1 85.7" stroke="#000" stroke-width="1.15" fill="none" stroke-linejoin="round"/>
<text transform="translate(259.19,95.00) scale(1.0383,1)" font-size="9.70" font-weight="bold" font-style="normal">1</text>
<text transform="translate(127.91,113.60) scale(1.0479,1)" font-size="14.60" font-weight="bold" font-style="italic">p</text>
<text transform="translate(139.91,113.90) scale(1.5189,1)" font-size="14.30" font-weight="bold" font-style="normal">=</text>
<text transform="translate(156.80,113.60) scale(1.1556,1)" font-size="13.99" font-weight="bold" font-style="normal">4</text>
<text transform="translate(166.04,113.60) scale(0.8741,1)" font-size="14.30" font-weight="bold" font-style="normal">,</text>
<text transform="translate(175.67,113.60) scale(1.3399,1)" font-size="14.18" font-weight="bold" font-style="italic">λ</text>
<text transform="translate(188.46,113.90) scale(1.5941,1)" font-size="14.30" font-weight="bold" font-style="normal">=</text>
<text transform="translate(205.60,113.70) scale(1.1742,1)" font-size="13.68" font-weight="bold" font-style="normal">0.6</text>
<text transform="translate(341.02,187.50) scale(1.1665,1)" font-size="16.00" font-weight="bold" font-style="normal">SCET</text>
<text transform="translate(390.08,187.50) scale(1.0840,1)" font-size="11.60" font-weight="bold" font-style="normal">LIB</text>
<path d="M338.4 204.3H371" stroke="#ff4208" stroke-width="1.8" fill="none"/>
<text transform="translate(377.17,208.40) scale(1.0781,1)" font-size="16.20" font-weight="bold" font-style="normal">full</text>
<path d="M338.4 225.6H370.0" stroke="#0808ff" stroke-width="2.0" stroke-dasharray="14.15 3.3" fill="none"/>
<text transform="translate(376.76,229.60) scale(1.1057,1)" font-size="16.20" font-weight="bold" font-style="normal">singular</text>
<path d="M338.2 246.8H369.0" stroke="#0ca00c" stroke-width="2.1" stroke-dasharray="6.05 2.2" fill="none"/>
<text transform="translate(376.80,250.60) scale(1.1115,1)" font-size="16.20" font-weight="bold" font-style="normal">nonsingular</text>
<g transform="translate(0,337) rotate(-90)">
<path d="M75.4 24.8H177.0M192.1 24.8H227.9" stroke="#000" stroke-width="1.1" fill="none"/>
<path d="M188 2.6V47.2M231.9 2.6V47.2" stroke="#000" stroke-width="1" fill="none"/>
<text transform="translate(112.59,16.30) scale(1.3146,1)" font-size="19.50" font-weight="bold" font-style="italic">m</text>
<text transform="translate(131.54,9.40) scale(1.1668,1)" font-size="12.83" font-weight="bold" font-style="normal">3</text>
<text transform="translate(132.13,21.70) scale(0.9965,1)" font-size="13.60" font-weight="bold" font-style="italic">b</text>
<text transform="translate(75.03,43.60) scale(1.0874,1)" font-size="19.69" font-weight="bold" font-style="normal">Γ</text>
<text transform="translate(87.64,45.60) scale(1.1584,1)" font-size="13.00" font-weight="bold" font-style="normal">0</text>
<path d="M98.1 29.2V48M142.9 29.2V48" stroke="#000" stroke-width="1" fill="none"/>
<text transform="translate(101.22,43.80) scale(1.1319,1)" font-size="19.80" font-weight="bold" font-style="italic">C</text>
<text transform="translate(116.12,47.60) scale(1.1792,1)" font-size="13.00" font-weight="bold" font-style="normal">7</text>
<text transform="translate(117.10,37.80) scale(1.1719,1)" font-size="12.80" font-weight="normal" font-style="normal" stroke="#000" stroke-width="0.3">incl</text>
<text transform="translate(145.52,37.90) scale(1.2234,1)" font-size="13.00" font-weight="bold" font-style="normal">2</text>
<text transform="translate(154.98,44.30) scale(1.2105,1)" font-size="19.80" font-weight="bold" font-style="italic">E</text>
<text transform="translate(169.25,37.70) scale(1.1336,1)" font-size="13.00" font-weight="bold" font-style="normal">3</text>
<text transform="translate(168.69,47.90) scale(1.3333,1)" font-size="13.50" font-weight="normal" font-style="italic" stroke="#000" stroke-width="0.3">γ</text>
<text transform="translate(198.81,18.30) scale(1.0348,1)" font-size="19.14" font-weight="bold" font-style="normal">d</text>
<text transform="translate(210.04,18.30) scale(1.0529,1)" font-size="19.50" font-weight="bold" font-style="normal">Γ</text>
<text transform="translate(192.21,43.80) scale(1.0155,1)" font-size="19.50" font-weight="bold" font-style="normal">d</text>
<text transform="translate(204.38,43.80) scale(1.2210,1)" font-size="19.50" font-weight="bold" font-style="italic">E</text>
<text transform="translate(218.40,45.70) scale(1.2778,1)" font-size="13.50" font-weight="normal" font-style="italic" stroke="#000" stroke-width="0.3">γ</text>
<text transform="translate(249.85,29.90) scale(1.0152,1)" font-size="19.70" font-weight="bold" font-style="normal">GeV</text>
<path d="M249.6 16.1H247.1V33.3H249.6M308.8 16.1H311.3V33.3H308.8" stroke="#000" stroke-width="1.25" fill="none"/>
<text transform="translate(289.27,22.00) scale(1.4826,1)" font-size="13.20" font-weight="bold" font-style="normal">−</text>
<text transform="translate(300.45,22.00) scale(1.1198,1)" font-size="12.88" font-weight="bold" font-style="normal">1</text>
</g>
</g>
</svg></body></html>
